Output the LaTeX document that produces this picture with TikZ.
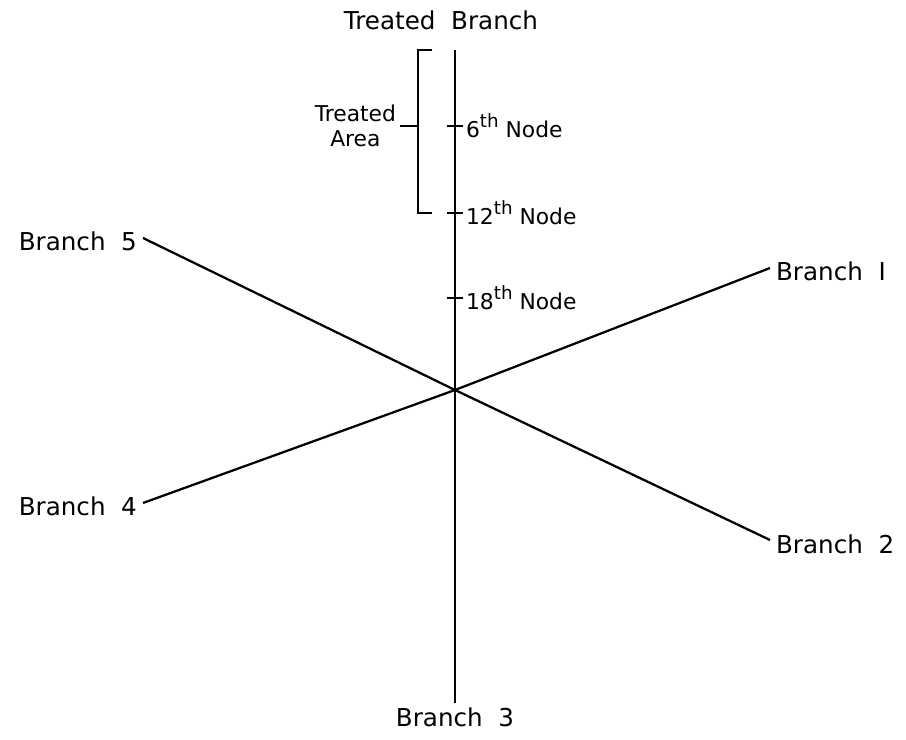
\documentclass[tikz,border=0pt]{standalone}
\usepackage{fontspec}
\setmainfont{DejaVu Sans}
\usepackage{tikz}
\usetikzlibrary{positioning, calc}

\begin{document}
\begin{tikzpicture}[x=0.025cm, y=-0.025cm]
	\tikzstyle{branch}=[draw=black, line width=1.6pt]
	\tikzstyle{tick}=[draw=black, line width=1.2pt]
	\tikzstyle{lbl}=[font=\fontsize{17.5}{21}\selectfont, text=black, inner sep=2pt]
	\tikzstyle{nodelbl}=[font=\fontsize{15.5}{18}\selectfont, text=black, inner sep=2pt]
	
	\useasboundingbox (0,0) rectangle (906,740);
	
	%%	centre and treated branch
	\coordinate (c) at (455,390);
	\coordinate (top) at (455,50);
	\coordinate (bot) at (455,703);
	\draw [branch] (top) -- (bot);
	\node [lbl] (tb) at (441,20) {Treated\ \ Branch};
	\node [lbl, below=1pt of bot] (b3) {Branch\ \ 3};
	
	%%	the other branches
	\node [lbl, anchor=west] (b1) at (773,271) {Branch\ \ I};
	\node [lbl, anchor=west] (b2) at (773,544) {Branch\ \ 2};
	\node [lbl, anchor=east] (b4) at (140,506) {Branch\ \ 4};
	\node [lbl, anchor=east] (b5) at (140,241) {Branch\ \ 5};
	\draw [branch] (c) -- (770,268);
	\draw [branch] (c) -- (770,540);
	\draw [branch] (c) -- (143,503);
	\draw [branch] (c) -- (143,238);
	
	%%	nodes along the treated branch
	\foreach \y/\n in {126/6, 213/12, 298/18}
	{
		\draw [tick] (447,\y) -- (463,\y);
		\node [nodelbl, anchor=west] (n\n) at (463,\y) {\n\raisebox{0.45em}{\fontsize{13}{15}\selectfont th} Node};
	}
	
	%%	treated area bracket
	\draw [tick] (432,50) -- (418,50) -- (418,213) -- (432,213);
	\draw [tick] (418,126) -- (400,126);
	\node [nodelbl, anchor=east, align=center] (ta) at (399,126) {Treated\\Area};
\end{tikzpicture}
\end{document}
